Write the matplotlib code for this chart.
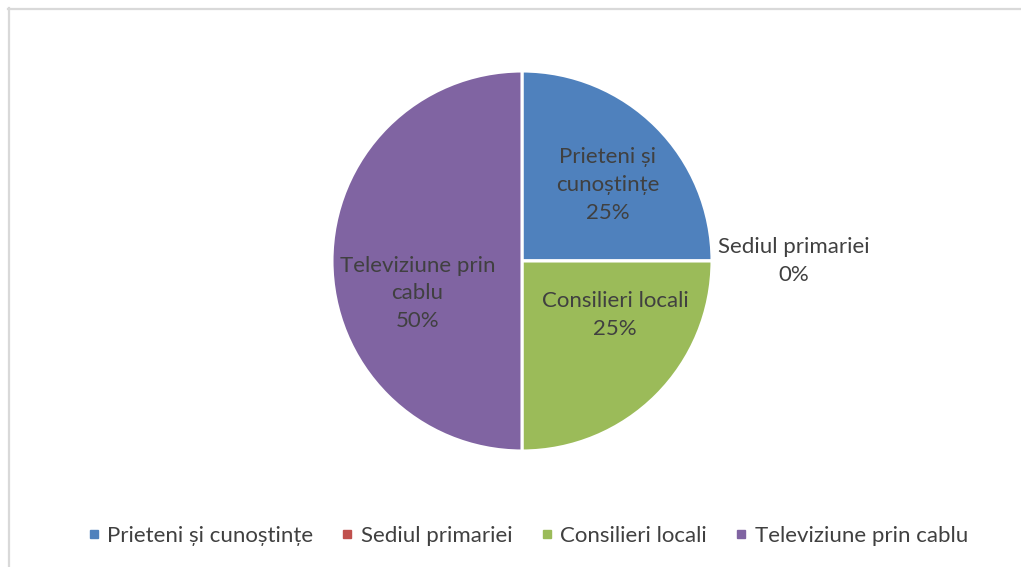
import numpy as np
import matplotlib
matplotlib.use("Agg")
from matplotlib import pyplot as plt
from matplotlib.lines import Line2D

# data
categories = ["Prieteni și cunoștințe", "Sediul primariei", "Consilieri locali", "Televiziune prin cablu"]
values = [25, 0, 25, 50]
label_names = ["Prieteni și\ncunoștințe", "Sediul primariei", "Consilieri locali", "Televiziune prin\ncablu"]
colors = ["#4F81BD", "#C0504D", "#9BBB59", "#8064A2"]

# where excel put the data labels (axes data units, pie radius = 1)
label_pos = [(0.45, 0.40), (1.43, 0.0), (0.49, -0.285), (-0.55, -0.17)]

text_color = "#404040"
plt.rcParams['font.family'] = ['Lato', 'DejaVu Sans']

fig = plt.figure(figsize=(10.21, 5.67), dpi=100)

# light gray frame (top + left like the crop in the reference)
fig.add_artist(Line2D([8 / 1021, 1.0], [1 - 8.5 / 567, 1 - 8.5 / 567], color="#D9D9D9", lw=1.6,
                      transform=fig.transFigure))
fig.add_artist(Line2D([8.5 / 1021, 8.5 / 1021], [0.0, 1 - 8 / 567], color="#D9D9D9", lw=1.6,
                      transform=fig.transFigure))

r_px = 190
cx, cy = 522, 261
ax = fig.add_axes([(cx - r_px) / 1021, 1 - (cy + r_px) / 567, 2 * r_px / 1021, 2 * r_px / 567])

wedges, _ = ax.pie(values, colors=colors, startangle=90, counterclock=False,
                   wedgeprops=dict(edgecolor="white", linewidth=2.2))
ax.set_xlim(-1, 1)
ax.set_ylim(-1, 1)
ax.set_aspect("auto")
ax.axis("off")

total = sum(values)
for name, val, (x, y) in zip(label_names, values, label_pos):
    pct = f"{round(100 * val / total)}%"
    ax.text(x, y, f"{name}\n{pct}", ha="center", va="center", fontsize=16,
            color=text_color, linespacing=1.48, clip_on=False)

handles = [Line2D([0], [0], marker="s", linestyle="none", markersize=6,
                  markerfacecolor=c, markeredgecolor=c) for c in colors]
fig.legend(handles, categories, loc="center", bbox_to_anchor=(528 / 1021, 1 - 536 / 567),
           ncol=4, frameon=False, fontsize=16, labelcolor=text_color,
           handlelength=0.5, handletextpad=0.35, columnspacing=1.3)

fig.savefig("out.png", dpi=100, facecolor="white")
